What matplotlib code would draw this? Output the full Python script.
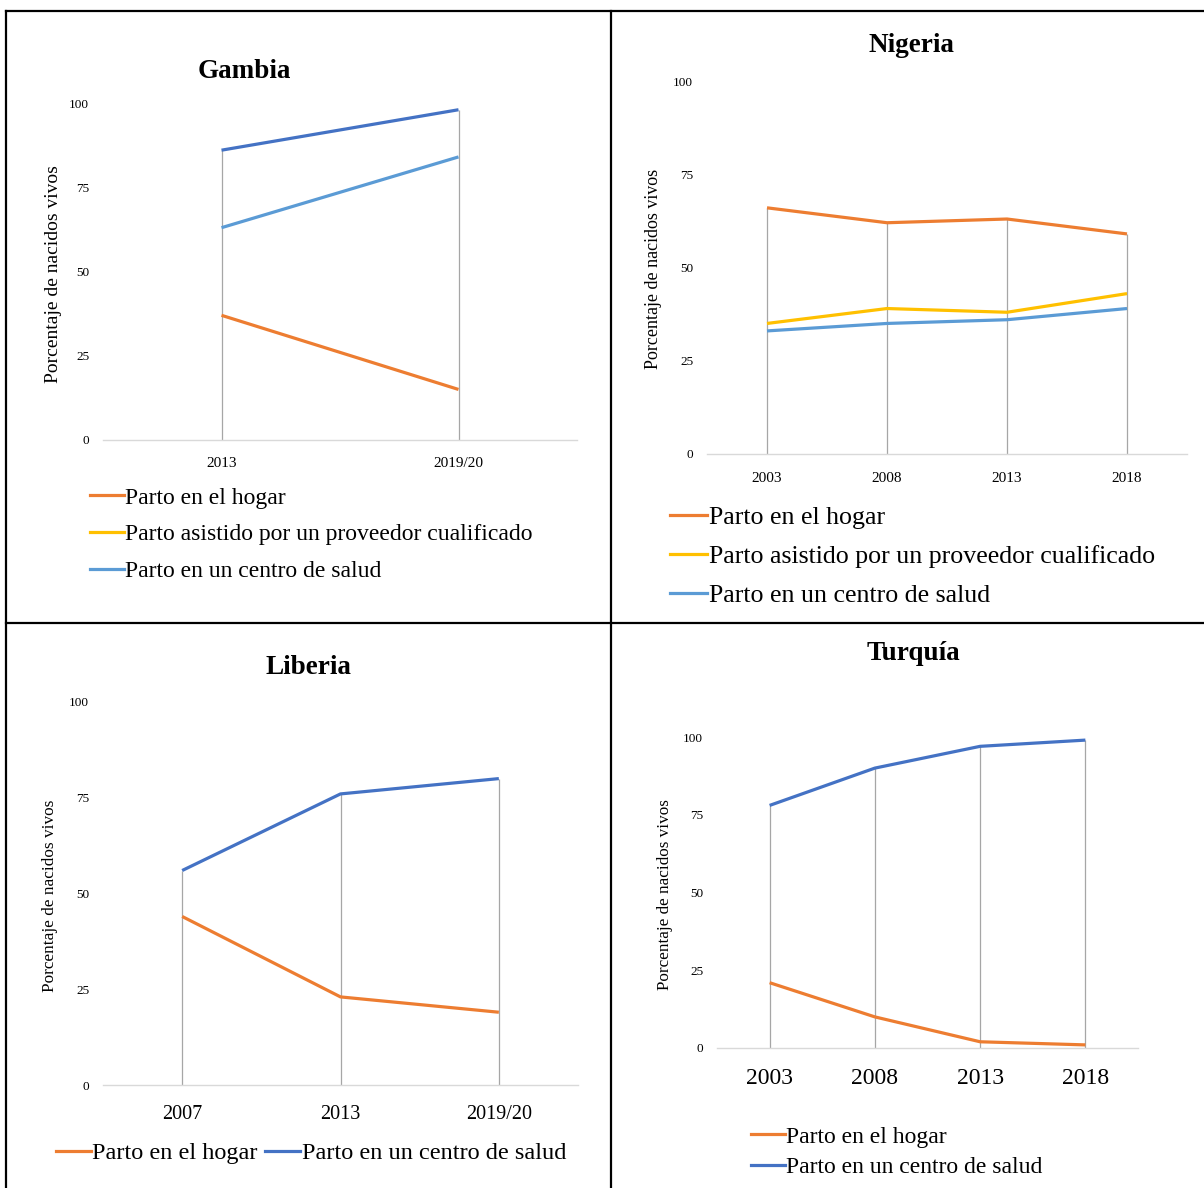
import matplotlib.pyplot as plt
import numpy as np
from matplotlib.lines import Line2D

plt.rcParams.update({
    "font.family": ["Liberation Serif", "DejaVu Serif"],
    "axes.spines.top": False,
    "axes.spines.right": False,
    "axes.spines.left": False,
})

W, H = 1204, 1188

C_HOGAR = "#ED7D31"
C_ASIST = "#FFC000"
C_SALUD = "#5B9BD5"
C_DARK = "#4472C4"

LBL_HOGAR = "Parto en el hogar"
LBL_ASIST = "Parto asistido por un proveedor cualificado"
LBL_SALUD = "Parto en un centro de salud"
YLABEL = "Porcentaje de nacidos vivos"

# --- data (% of live births) --------------------------------------------------
gambia_years = ["2013", "2019/20"]
gambia_hogar = [37, 15]
gambia_salud = [63, 84]
gambia_top = [86, 98]          # dark blue line, not in the legend

nigeria_years = ["2003", "2008", "2013", "2018"]
nigeria_hogar = [66, 62, 63, 59]
nigeria_asist = [35, 39, 38, 43]
nigeria_salud = [33, 35, 36, 39]

liberia_years = ["2007", "2013", "2019/20"]
liberia_hogar = [44, 23, 19]
liberia_salud = [56, 76, 80]

turquia_years = ["2003", "2008", "2013", "2018"]
turquia_hogar = [21, 10, 2, 1]
turquia_salud = [78, 90, 97, 99]


fig = plt.figure(figsize=(W / 100, H / 100), dpi=100)


def px_axes(x0, x1, y_top, y_bot):
    return fig.add_axes([x0 / W, 1 - y_bot / H, (x1 - x0) / W, (y_bot - y_top) / H])


def panel(box, years, series, title, title_xy, xfs, ylab_fs, ylab_xy, xpad=9):
    ax = px_axes(*box)
    x = np.arange(len(years))
    vals = np.array([s[0] for s in series], dtype=float)
    ax.vlines(x, 0, vals.max(axis=0), color="#A6A6A6", lw=0.9, zorder=1)
    for ys, color, label in series:
        ax.plot(x, ys, color=color, lw=2.3, label=label, zorder=3,
                solid_capstyle="butt")
    ax.set_xlim(-0.5, len(years) - 0.5)
    ax.set_ylim(0, 100)
    ax.set_yticks([0, 25, 50, 75, 100])
    ax.set_xticks(x)
    ax.set_xticklabels(years, fontsize=xfs)
    ax.tick_params(axis="y", length=0, pad=10, labelsize=9.5)
    ax.tick_params(axis="x", length=0, pad=xpad)
    ax.spines["bottom"].set_color("#D9D9D9")
    ax.spines["bottom"].set_linewidth(1.0)
    ax.set_ylabel(YLABEL, fontsize=ylab_fs)
    ax.yaxis.label.set_verticalalignment("center")
    ax.yaxis.set_label_coords(*ylab_xy)
    fig.text(title_xy[0] / W, 1 - title_xy[1] / H, title, ha="center",
             va="center", fontsize=19.5, fontweight="bold")
    return ax


def legend(ax, colors, labels, leg_xy, ncol=1, fs=17, space=0.4):
    handles = [Line2D([], [], color=c, lw=2.3) for c in colors]
    ax.legend(handles, labels, loc="upper left",
              bbox_to_anchor=(leg_xy[0] / W, 1 - leg_xy[1] / H),
              bbox_transform=fig.transFigure, frameon=False, fontsize=fs,
              ncol=ncol, handlelength=1.45, handletextpad=0.05,
              borderpad=0, borderaxespad=0, labelspacing=space,
              columnspacing=0.3)


# Gambia
ax = panel((103, 577, 103, 440), gambia_years,
           [(gambia_hogar, C_HOGAR, LBL_HOGAR), (gambia_salud, C_SALUD, LBL_SALUD),
            (gambia_top, C_DARK, None)],
           "Gambia", (244, 71), 11, 14, (-0.105, 0.493), xpad=12)
legend(ax, (C_HOGAR, C_ASIST, C_SALUD), [LBL_HOGAR, LBL_ASIST, LBL_SALUD],
       (90, 487), fs=17, space=0.64)

# Nigeria
ax = panel((707, 1187, 81, 454), nigeria_years,
           [(nigeria_hogar, C_HOGAR, LBL_HOGAR), (nigeria_asist, C_ASIST, LBL_ASIST),
            (nigeria_salud, C_SALUD, LBL_SALUD)],
           "Nigeria", (911, 45), 11, 13, (-0.1125, 0.495), xpad=13)
legend(ax, (C_HOGAR, C_ASIST, C_SALUD), [LBL_HOGAR, LBL_ASIST, LBL_SALUD],
       (670, 506), fs=18.6, space=0.62)

# Liberia
ax = panel((103, 578, 702, 1085), liberia_years,
           [(liberia_hogar, C_HOGAR, LBL_HOGAR), (liberia_salud, C_DARK, LBL_SALUD)],
           "Liberia", (308, 667), 14.5, 12.4, (-0.1116, 0.493), xpad=14.5)
legend(ax, (C_HOGAR, C_DARK), [LBL_HOGAR, LBL_SALUD], (56, 1142), ncol=2, fs=17.5)

# Turquia
ax = panel((717, 1138, 737, 1048), turquia_years,
           [(turquia_hogar, C_HOGAR, LBL_HOGAR), (turquia_salud, C_DARK, LBL_SALUD)],
           "Turquía", (913, 654), 17, 12.3, (-0.1235, 0.492), xpad=14.5)
legend(ax, (C_HOGAR, C_DARK), [LBL_HOGAR, LBL_SALUD], (751, 1126), fs=17, space=0.37)

# table borders
for xs, ys in [((6, 6), (11, H)), ((611, 611), (11, H)), ((6, W), (11, 11)),
               ((6, W), (623, 623))]:
    fig.add_artist(Line2D([x / W for x in xs], [1 - y / H for y in ys],
                          transform=fig.transFigure, color="black", lw=1.6))

fig.savefig("out.png", dpi=100)
